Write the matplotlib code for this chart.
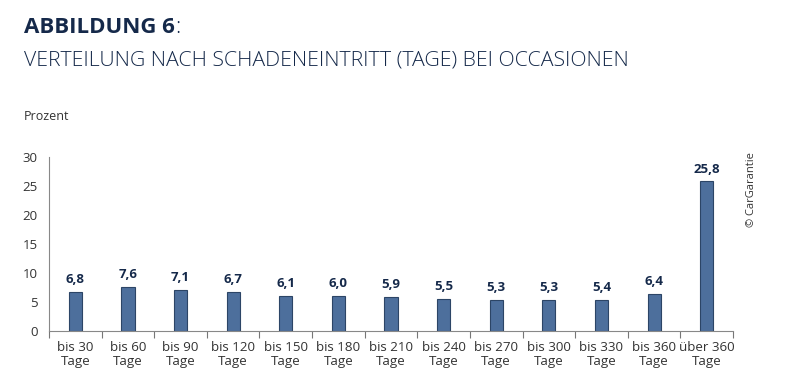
import matplotlib
matplotlib.use("Agg")
import matplotlib.pyplot as plt
import numpy as np

categories = ["bis 30\nTage", "bis 60\nTage", "bis 90\nTage", "bis 120\nTage", "bis 150\nTage",
              "bis 180\nTage", "bis 210\nTage", "bis 240\nTage", "bis 270\nTage", "bis 300\nTage",
              "bis 330\nTage", "bis 360\nTage", "über 360\nTage"]
values = [6.8, 7.6, 7.1, 6.7, 6.1, 6.0, 5.9, 5.5, 5.3, 5.3, 5.4, 6.4, 25.8]
yticks = [0, 5, 10, 15, 20, 25, 30]

plt.rcParams['font.family'] = ['Open Sans', 'DejaVu Sans']

fig = plt.figure(figsize=(8, 3.81), dpi=100)
ax = fig.add_axes([49/800, 1-331/381, (733-49)/800, (331-157)/381])

x = np.arange(len(categories))
ax.bar(x, values, width=0.25, color="#4d6f9c", edgecolor="#2c4566", linewidth=0.8)
for xi, v in zip(x, values):
    ax.text(xi, v + 1.0, f"{v:.1f}".replace(".", ","), ha="center", va="bottom",
            fontsize=9.5, fontweight="bold", color="#15294a")

ax.set_xlim(-0.5, len(categories) - 0.5)
ax.set_ylim(0, 30)
ax.set_yticks(yticks)
ax.set_yticklabels([str(t) for t in yticks], fontsize=9.5, color="#333333")
ax.set_xticks(x)
ax.set_xticklabels(categories, fontsize=9.6, color="#333333", linespacing=1.1)
ax.tick_params(axis="x", length=0, pad=7)
ax.tick_params(axis="y", length=0, pad=8)
ax.set_xticks(np.arange(len(categories) + 1) - 0.5, minor=True)
ax.tick_params(axis="x", which="minor", length=5, color="#777777", width=0.8)

for s in ["top", "right"]:
    ax.spines[s].set_visible(False)
ax.spines["left"].set_color("#888888")
ax.spines["bottom"].set_color("#888888")

t1 = fig.text(24/800, 1-33/381, "ABBILDUNG 6", fontsize=16, fontweight="bold", color="#15294a",
              ha="left", va="baseline")
fig.canvas.draw()
bb = t1.get_window_extent()
fig.text(bb.x1/800 + 0.001, 1-33/381, ":", fontsize=16, fontweight="light", color="#15294a",
         ha="left", va="baseline")
fig.text(24/800, 1-65/381, "VERTEILUNG NACH SCHADENEINTRITT (TAGE) BEI OCCASIONEN", fontsize=15.3,
         fontweight="light", color="#15294a", ha="left", va="baseline")
fig.text(24/800, 1-116/381, "Prozent", fontsize=9, color="#333333", ha="left", va="center")
fig.text(752/800, 1-190/381, "© CarGarantie", fontsize=8, color="#333333", rotation=90,
         ha="center", va="center")

fig.savefig("out.png", dpi=100)
